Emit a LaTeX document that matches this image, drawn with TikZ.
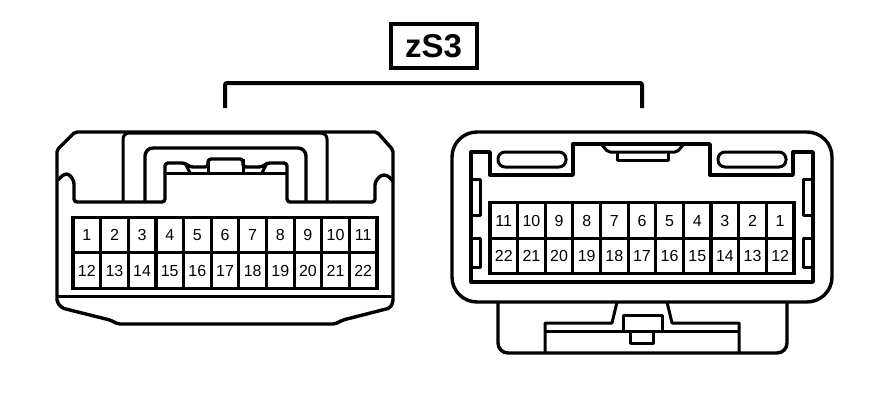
\documentclass[tikz,border=0pt]{standalone}
\usepackage{fontspec}
\setmainfont{Liberation Sans}
\usepackage{tikz}
\tikzset{
  outline/.style={line width=3.4pt,line join=round},
  thinline/.style={line width=3pt,line join=round},
  pinbox/.style={draw,line width=3.2pt,minimum width=27.64pt,minimum height=35.5pt,inner sep=0pt,text height=11.5pt,text depth=0pt,font=\fontsize{16}{17}\selectfont},
  titlebox/.style={draw,line width=4pt,minimum width=86pt,minimum height=43pt,inner sep=0pt,font=\fontsize{33}{35}\selectfont\bfseries}
}
\begin{document}
\begin{tikzpicture}[x=1pt,y=-1pt]
  \useasboundingbox (0,0) rectangle (896,412);

  % title and bracket
  \draw (433.5,46) node[titlebox] (title) {zS3};
  \coordinate (bracketL) at (225,108);
  \coordinate (bracketR) at (642,108);
  \draw[line width=4pt,rounded corners=2pt] (bracketL) -- (225,83) -- (642,83) -- (bracketR);

  % left connector
  \draw[outline,rounded corners=2pt] (75,132) -- (377,132) -- (393,150) -- (393,302) -- (390,308) -- (343,320) -- (335,324)
     -- (118,324) -- (110,320) -- (62,308) -- (57,302) -- (57,150) -- cycle;
  \draw[thinline] (57,296) -- (393,296);
  \draw[outline,rounded corners=3pt] (58,180) -- (64,174) -- (69,174) -- (74,181) -- (74,202) -- (165,202) -- (165,163) -- (185,163)
     -- (190,167) -- (208,167) -- (208,159) -- (243,159) -- (243,167) -- (262,167) -- (267,163) -- (287,163) -- (287,202)
     -- (375,202) -- (375,182) -- (381,175) -- (387,175) -- (393,181);
  \draw[thinline] (165,173) -- (287,173);
  \draw[thinline] (208,159) -- (208,173);
  \draw[thinline] (243,159) -- (243,173);
  \draw[thinline] (185,163) -- (190,173);
  \draw[thinline] (267,163) -- (262,173);
  \draw[thinline,rounded corners=6pt] (123,202) -- (123,133) -- (327,133) -- (327,202);
  \draw[outline,rounded corners=8pt] (145,202) -- (145,148) -- (306,148) -- (306,202);

  % right connector
  \draw[outline,rounded corners=25pt] (452,132) rectangle (832,302);
  \draw[outline] (471,152) -- (490,152) -- (490,175) -- (573,175) -- (573,144) -- (710,144) -- (710,175) -- (793,175)
     -- (793,152) -- (813,152) -- (813,282) -- (471,282) -- cycle;
  \draw[thinline,rounded corners=7pt] (498,152) rectangle (566,167);
  \draw[thinline,rounded corners=7pt] (718,152) rectangle (786,167);
  \draw[thinline,rounded corners=2pt] (602,145) -- (608,152) -- (677,152) -- (683,145);
  \draw[thinline] (617,152) -- (617,160) -- (668,160) -- (668,152);
  \draw[thinline] (471,179) -- (480,179) -- (480,215) -- (471,215);
  \draw[thinline] (471,238) -- (480,238) -- (480,267) -- (471,267);
  \draw[thinline] (813,179) -- (803,179) -- (803,215) -- (813,215);
  \draw[thinline] (813,238) -- (803,238) -- (803,267) -- (813,267);

  % lower part of right connector
  \draw[outline,rounded corners=10pt] (498,302) -- (498,353) -- (787,353) -- (787,302);
  \draw[thinline] (545,353) -- (545,323) -- (612,323) -- (617,302);
  \draw[thinline] (667,302) -- (672,323) -- (739,323) -- (739,353);
  \draw[thinline] (545,331) -- (739,331);
  \draw[thinline,fill=white] (623,315) rectangle (662,331);
  \draw[thinline] (630,331) rectangle (653,343);

  % pins
  \foreach \n in {1,...,11} {
    \draw ({73+27.64*(\n-0.5)},235) node[pinbox] (lpin\n) {\n};
    \draw ({794-27.64*(\n-0.5)},220.5) node[pinbox] (rpin\n) {\n};
  }
  \foreach \n [evaluate=\n as \k using int(\n-11)] in {12,...,22} {
    \draw ({73+27.64*(\k-0.5)},270.5) node[pinbox] (lpin\n) {\n};
    \draw ({794-27.64*(\k-0.5)},256) node[pinbox] (rpin\n) {\n};
  }
\end{tikzpicture}
\end{document}
